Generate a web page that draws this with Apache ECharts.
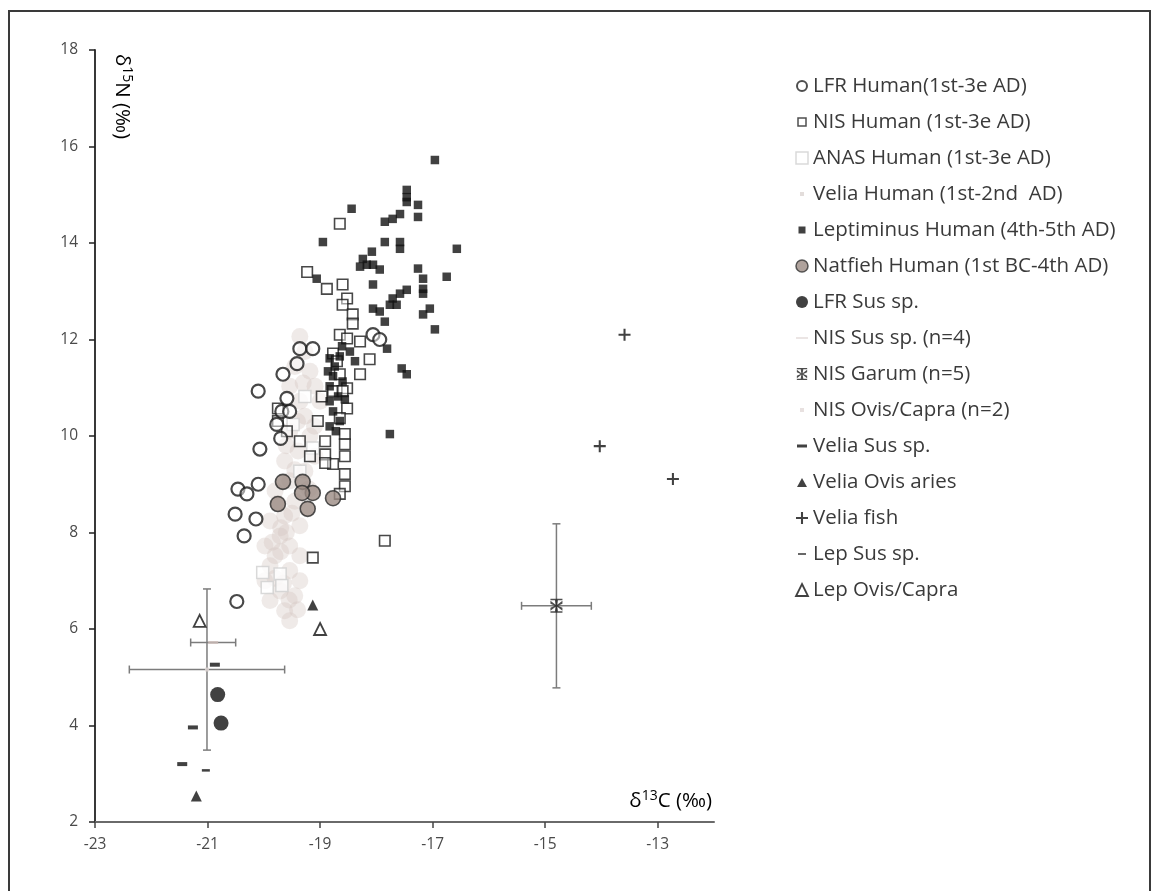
<!DOCTYPE html>
<html><head><meta charset="utf-8">
<script src="https://cdn.jsdelivr.net/npm/echarts@6/dist/echarts.min.js"></script>
<style>html,body{margin:0;padding:0;background:#fff}#c{width:1154px;height:891px}</style>
</head><body><div id="c"></div>
<script>
const xTicks = [-23, -21, -19, -17, -15, -13];
const yTicks = [2, 4, 6, 8, 10, 12, 14, 16, 18];

const lfrHuman = [[-20.10,10.93],[-20.07,9.73],[-20.46,8.90],[-20.30,8.80],[-20.10,9.00],[-20.51,8.38],[-20.14,8.28],[-20.35,7.93],[-20.48,6.57],[-19.36,11.81],[-19.13,11.81],[-19.41,11.50],[-19.66,11.28],[-19.68,10.51],[-19.54,10.51],[-19.77,10.24],[-19.70,9.95],[-18.06,12.10],[-17.94,12.00],[-19.59,10.78]];
const nisHuman = [[-18.65,14.40],[-19.23,13.40],[-18.88,13.05],[-18.60,13.14],[-18.52,12.85],[-18.60,12.72],[-18.42,12.52],[-18.42,12.33],[-18.65,12.10],[-18.52,12.02],[-18.77,11.71],[-18.70,11.55],[-18.29,11.96],[-18.12,11.59],[-18.29,11.28],[-18.65,11.28],[-18.52,10.99],[-18.52,10.57],[-18.65,10.37],[-18.77,10.93],[-18.60,10.93],[-19.75,10.57],[-19.75,10.31],[-19.59,10.10],[-18.56,10.04],[-18.56,9.83],[-18.56,9.58],[-18.77,9.42],[-18.56,9.21],[-18.56,8.96],[-18.65,8.80],[-18.91,9.89],[-18.91,9.62],[-18.91,9.44],[-17.85,7.83],[-19.13,7.48],[-19.36,9.89],[-19.18,9.58],[-19.04,10.31],[-18.97,10.82]];
const anasHuman = [[-20.02,7.17],[-19.71,7.14],[-19.94,6.86],[-19.68,6.90],[-19.48,10.24],[-19.13,9.75],[-19.27,10.82],[-19.36,9.27]];
const veliaHuman = [[-19.36,12.06],[-19.27,11.75],[-19.45,11.44],[-19.18,11.34],[-19.09,11.03],[-19.54,11.03],[-19.36,10.72],[-19.00,10.72],[-19.27,10.41],[-19.54,10.10],[-19.18,10.00],[-19.39,9.69],[-19.09,9.58],[-19.63,9.48],[-19.27,9.27],[-19.54,9.07],[-19.80,8.86],[-19.45,8.65],[-19.63,8.34],[-19.89,8.24],[-19.36,8.14],[-19.71,7.93],[-19.98,7.72],[-19.54,7.72],[-19.80,7.52],[-19.36,7.52],[-19.89,7.31],[-19.54,7.21],[-19.71,6.79],[-19.45,6.69],[-19.89,6.59],[-19.63,6.38],[-19.54,6.17],[-19.36,7.00],[-19.98,7.00],[-19.70,7.60],[-19.60,8.00],[-19.50,8.40],[-19.75,8.60],[-19.45,9.30],[-19.20,8.90],[-19.60,9.80],[-19.40,10.30],[-19.10,10.20],[-19.30,11.10],[-19.80,7.05],[-19.65,6.95],[-19.40,6.40],[-19.70,8.10],[-19.85,7.80],[-19.55,6.60]];
const leptiminusHuman = [[-16.96,15.72],[-17.46,15.10],[-17.46,14.95],[-17.46,14.85],[-17.26,14.79],[-17.26,14.54],[-17.58,14.60],[-17.71,14.50],[-17.85,14.44],[-18.44,14.71],[-18.95,14.02],[-17.85,14.02],[-17.58,14.02],[-17.58,13.88],[-16.57,13.88],[-18.08,13.82],[-18.24,13.67],[-18.17,13.55],[-18.06,13.55],[-17.94,13.45],[-18.29,13.51],[-17.26,13.47],[-16.75,13.30],[-19.06,13.26],[-18.06,13.14],[-17.17,13.26],[-17.17,13.05],[-17.17,12.95],[-17.71,12.85],[-17.58,12.95],[-17.46,13.03],[-17.64,12.72],[-17.76,12.72],[-18.06,12.64],[-17.94,12.58],[-17.85,12.37],[-17.05,12.64],[-17.17,12.52],[-16.96,12.21],[-17.81,11.81],[-17.55,11.40],[-17.46,11.28],[-17.76,10.04],[-18.83,11.61],[-18.74,11.44],[-18.65,11.65],[-18.77,11.24],[-18.60,11.13],[-18.83,11.03],[-18.68,10.82],[-18.83,10.72],[-18.56,10.76],[-18.77,10.51],[-18.65,10.31],[-18.83,10.20],[-18.72,10.10],[-18.61,11.86],[-18.47,11.75],[-18.38,11.55],[-18.86,11.34]];
const natfiehHuman = [[-19.66,9.05],[-19.31,9.05],[-19.13,8.82],[-19.32,8.82],[-19.75,8.59],[-19.22,8.49],[-18.77,8.71]];
const lfrSus = [[-20.82,4.64],[-20.76,4.05]];
const nisSus = [[-20.90,5.72]];
const nisSusSD = [[0.40,0]];
const nisGarum = [[-14.80,6.48]];
const nisGarumSD = [[0.62,1.70]];
const nisOvis = [[-21.01,5.16]];
const nisOvisSD = [[1.38,1.67]];
const veliaSus = [[-20.87,5.26],[-21.26,3.96],[-21.45,3.20]];
const veliaOvis = [[-21.20,2.54],[-19.13,6.50]];
const veliaFish = [[-13.59,12.10],[-14.03,9.79],[-12.73,9.11]];
const lepSus = [[-21.03,3.07]];
const lepOvis = [[-21.14,6.17],[-19.00,6.00]];

const FONT = 'Open Sans';
const errData = [
  nisOvis[0].concat(nisOvisSD[0]),
  nisSus[0].concat(nisSusSD[0]),
  nisGarum[0].concat(nisGarumSD[0])
];
function renderErr(params, api) {
  const x = api.value(0), y = api.value(1), ex = api.value(2), ey = api.value(3);
  const st = {stroke: '#7c7c7c', lineWidth: 1.5};
  const cap = 4, ch = [];
  if (ex > 0) {
    const a = api.coord([x - ex, y]), b = api.coord([x + ex, y]);
    ch.push({type: 'line', shape: {x1: a[0], y1: a[1], x2: b[0], y2: b[1]}, style: st});
    ch.push({type: 'line', shape: {x1: a[0], y1: a[1] - cap, x2: a[0], y2: a[1] + cap}, style: st});
    ch.push({type: 'line', shape: {x1: b[0], y1: b[1] - cap, x2: b[0], y2: b[1] + cap}, style: st});
  }
  if (ey > 0) {
    const a = api.coord([x, y - ey]), b = api.coord([x, y + ey]);
    ch.push({type: 'line', shape: {x1: a[0], y1: a[1], x2: b[0], y2: b[1]}, style: st});
    ch.push({type: 'line', shape: {x1: a[0] - cap, y1: a[1], x2: a[0] + cap, y2: a[1]}, style: st});
    ch.push({type: 'line', shape: {x1: b[0] - cap, y1: b[1], x2: b[0] + cap, y2: b[1]}, style: st});
  }
  return {type: 'group', children: ch};
}

const P_PLUS = 'path://M-1.2,-7H1.2V-1.2H7V1.2H1.2V7H-1.2V1.2H-7V-1.2H-1.2Z';
const P_GARUM = 'path://M-6,-7H6V-5.5H1.5L0.8,-1L6,-5V-2L1.5,0L6,2V5L0.8,1L1.5,5.5H6V7H-6V5.5H-1.5L-0.8,1L-6,5V2L-1.5,0L-6,-2V-5L-0.8,-1L-1.5,-5.5H-6Z';

const N = ['LFR Human(1st-3e AD)','NIS Human (1st-3e AD)','ANAS Human (1st-3e AD)','Velia Human (1st-2nd  AD)','Leptiminus Human (4th-5th AD)','Natfieh Human (1st BC-4th AD)','LFR Sus sp.','NIS Sus sp. (n=4)','NIS Garum (n=5)','NIS Ovis/Capra (n=2)','Velia Sus sp.','Velia Ovis aries','Velia fish','Lep Sus sp.','Lep Ovis/Capra'];

function sc(name, data, symbol, size, style, z) {
  return {type: 'scatter', name, data, symbol, symbolSize: size, itemStyle: style, z: z || 2, silent: true, emphasis: {disabled: true}};
}

const legendData = [
  {name: N[0], icon: 'path://M0,0M12,12M1,6A5,5,0,1,0,11,6A5,5,0,1,0,1,6Z', itemStyle: {color: '#fff', borderColor: '#222', borderWidth: 2}},
  {name: N[1], icon: 'path://M0,0M12,12M2,2H10V10H2Z', itemStyle: {color: '#fff', borderColor: '#222', borderWidth: 1.5}},
  {name: N[2], icon: 'rect', itemStyle: {color: '#fff', borderColor: '#cfcfcf', borderWidth: 1.5}},
  {name: N[3], icon: 'path://M0,0M12,12M4,4H8V8H4Z', itemStyle: {color: '#dcd4d2', borderWidth: 0}},
  {name: N[4], icon: 'path://M0,0M12,12M2.5,2.5H9.5V9.5H2.5Z', itemStyle: {color: '#111', borderWidth: 0}},
  {name: N[5], icon: 'circle', itemStyle: {color: '#9b8b83', borderColor: '#333', borderWidth: 1.5}},
  {name: N[6], icon: 'circle', itemStyle: {color: '#111', borderWidth: 0}},
  {name: N[7], icon: 'path://M0,0M12,12M0,5.4H12V6.6H0Z', itemStyle: {color: '#d4c8c5', borderWidth: 0}},
  {name: N[8], icon: P_GARUM, itemStyle: {color: '#222', borderWidth: 0}},
  {name: N[9], icon: 'path://M0,0M12,12M4,4H8V8H4Z', itemStyle: {color: '#e2dad8', borderWidth: 0}},
  {name: N[10], icon: 'path://M0,0M12,12M1,4.5H11V7.5H1Z', itemStyle: {color: '#111', borderWidth: 0}},
  {name: N[11], icon: 'path://M0,0M12,12M6,2L11,11H1Z', itemStyle: {color: '#111', borderWidth: 0}},
  {name: N[12], icon: P_PLUS, itemStyle: {color: '#111', borderWidth: 0}},
  {name: N[13], icon: 'path://M0,0M12,12M2,5.2H10V6.8H2Z', itemStyle: {color: '#111', borderWidth: 0}},
  {name: N[14], icon: 'triangle', itemStyle: {color: '#fff', borderColor: '#111', borderWidth: 1.8}}
];

const chart = echarts.init(document.getElementById('c'), null, {renderer: 'canvas'});
chart.setOption({
  backgroundColor: '#fff',
  animation: false,
  textStyle: {fontFamily: FONT},
  grid: {left: 95, right: 440, top: 50, bottom: 69, containLabel: false},
  xAxis: {
    type: 'value', min: -23, max: -12, interval: 1,
    axisLine: {show: true, onZero: false, lineStyle: {color: '#6a6a6a', width: 2}},
    axisTick: {show: true, length: 6, customValues: xTicks, lineStyle: {color: '#444', width: 1.5}},
    axisLabel: {customValues: xTicks, margin: 15, fontFamily: FONT, fontSize: 15.5, color: '#4a4a4a'},
    splitLine: {show: false}
  },
  yAxis: {
    type: 'value', min: 2, max: 18, interval: 2,
    axisLine: {show: true, onZero: false, lineStyle: {color: '#222', width: 1.8}},
    axisTick: {show: true, length: 6, lineStyle: {color: '#222', width: 1.5}},
    axisLabel: {margin: 17, fontFamily: FONT, fontSize: 15.5, color: '#4a4a4a'},
    splitLine: {show: false}
  },
  legend: {
    orient: 'vertical', left: 790, top: 70, itemWidth: 12, itemHeight: 12, itemGap: 14,
    textStyle: {fontFamily: FONT, fontSize: 20.5, color: '#3a3a3a', lineHeight: 22},
    selectedMode: false, data: legendData
  },
  graphic: [
    {type: 'rect', shape: {x: 9, y: 11, width: 1141, height: 900}, style: {fill: 'none', stroke: '#3a3a3a', lineWidth: 2}, silent: true},
    {type: 'text', x: 712, y: 801, silent: true, style: {
      text: '{a|δ}{b|13}{a|C (‰)}', textAlign: 'right', textVerticalAlign: 'middle',
      rich: {a: {fontFamily: FONT, fontSize: 20.5, color: '#333', lineHeight: 24}, b: {fontFamily: FONT, fontSize: 14, color: '#333', lineHeight: 24, verticalAlign: 'top'}}
    }},
    {type: 'text', x: 122, y: 54, rotation: -Math.PI / 2, silent: true, style: {
      text: '{a|δ}{b|15}{a|N (‰)}', textAlign: 'left', textVerticalAlign: 'middle',
      rich: {a: {fontFamily: FONT, fontSize: 20.5, color: '#333', lineHeight: 24}, b: {fontFamily: FONT, fontSize: 14, color: '#333', lineHeight: 24, verticalAlign: 'top'}}
    }}
  ],
  series: [
    sc(N[3], veliaHuman, 'circle', 17, {color: 'rgba(210,196,192,0.45)'}, 1),
    sc(N[2], anasHuman, 'rect', 12, {color: '#fff', borderColor: '#cfcfcf', borderWidth: 1.5}, 2),
    sc(N[1], nisHuman, 'rect', 10.5, {color: 'rgba(255,255,255,0.6)', borderColor: '#1a1a1a', borderWidth: 1.6}, 3),
    sc(N[0], lfrHuman, 'circle', 13, {color: 'rgba(255,255,255,0.6)', borderColor: '#1a1a1a', borderWidth: 2.2}, 4),
    sc(N[4], leptiminusHuman, 'rect', 8.5, {color: '#111'}, 5),
    sc(N[5], natfiehHuman, 'circle', 15, {color: '#9b8b83', borderColor: '#2a2a2a', borderWidth: 1.6}, 6),
    {type: 'custom', name: 'err', renderItem: renderErr, data: errData, z: 3, silent: true, encode: {x: 0, y: 1}},
    sc(N[6], lfrSus, 'circle', 15, {color: '#111'}, 6),
    sc(N[7], nisSus, 'rect', [10, 3], {color: '#cbbcb8'}, 6),
    sc(N[8], nisGarum, P_GARUM, [12, 14], {color: '#222'}, 6),
    sc(N[9], nisOvis, 'rect', 4, {color: '#e2dad8'}, 6),
    sc(N[10], veliaSus, 'rect', [10, 4], {color: '#111'}, 6),
    sc(N[11], veliaOvis, 'triangle', 11, {color: '#111'}, 6),
    sc(N[12], veliaFish, P_PLUS, 12, {color: '#111'}, 6),
    sc(N[13], lepSus, 'rect', [8, 2.5], {color: '#111'}, 6),
    sc(N[14], lepOvis, 'triangle', 12, {color: '#fff', borderColor: '#111', borderWidth: 1.8}, 6)
  ]
});
</script></body></html>
